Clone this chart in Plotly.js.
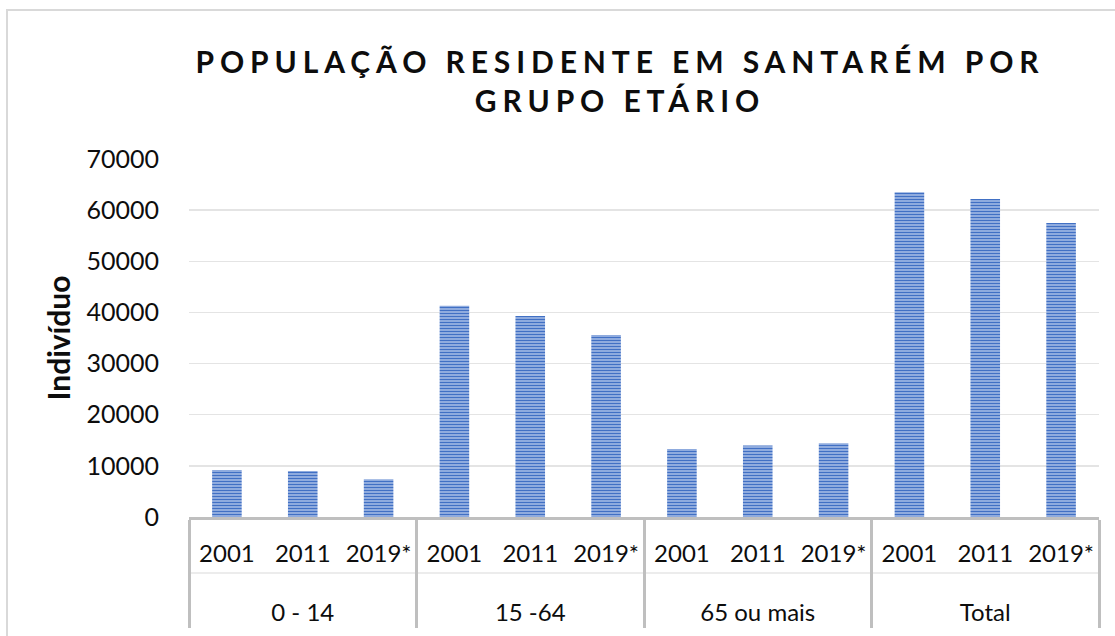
<!DOCTYPE html>
<html>
<head>
<meta charset="utf-8">
<script src="https://cdn.plot.ly/plotly-3.0.1.min.js"></script>
<style>
  html, body { margin: 0; padding: 0; background: #fff; }
  #chart { width: 1115px; height: 636px; position: absolute; left: 0; top: 0; }
  #frame { position: absolute; left: 6px; top: 9px; width: 1200px; height: 700px;
           border-left: 2px solid #d9d9d9; border-top: 2px solid #d9d9d9; pointer-events: none; }
  .gtitle { letter-spacing: 5.9px; }
</style>
</head>
<body>
<div id="chart"></div>
<div id="frame"></div>
<script>
// Data
const groups = ["0 - 14", "15 -64", "65 ou mais", "Total"];
const years = ["2001", "2011", "2019*"];
const values = {
  "0 - 14":     [9200, 9000, 7400],
  "15 -64":     [41300, 39300, 35600],
  "65 ou mais": [13300, 14000, 14400],
  "Total":      [63500, 62200, 57500]
};
const yTicks = [0, 10000, 20000, 30000, 40000, 50000, 60000, 70000];
const chartTitle = "POPULAÇÃO RESIDENTE EM SANTARÉM POR<br>GRUPO ETÁRIO";
const yTitle = "Indivíduo";

// label styling (outer labels get a leading line break to sit lower, as in the reference)
const lbl = s => "<span style='font-size:24px'>" + s + "</span>";

// Build multicategory arrays
const xOuter = [], xInner = [], yVals = [];
groups.forEach(g => years.forEach((yr, i) => {
  xOuter.push("<br>" + lbl(g)); xInner.push(lbl(yr)); yVals.push(values[g][i]);
}));

// layout pixel geometry
const W = 1115, H = 636;
const L = 189, R = 1099, T = 159, B = 517;
const px2x = p => (p - L) / (R - L);
const px2y = p => (B - p) / (B - T);

const font = "Lato, 'Open Sans', sans-serif";

const trace = {
  type: "bar",
  x: [xOuter, xInner],
  y: yVals,
  marker: {
    color: "#4472c4",
    line: { width: 0 },
    pattern: { shape: "-", fgcolor: "#4170c4", bgcolor: "#a9bfe7", size: 3, solidity: 0.5, fillmode: "replace" }
  },
  hoverinfo: "none"
};

const layout = {
  width: W, height: H,
  margin: { l: L, r: W - R, t: T, b: H - B, pad: 0 },
  paper_bgcolor: "#fff",
  plot_bgcolor: "#fff",
  bargap: 0.61,
  showlegend: false,
  font: { family: font, size: 24, color: "#0d0d0d" },
  title: {
    text: chartTitle,
    font: { family: font, size: 30, color: "#0d0d0d", weight: "bold" },
    x: px2x(620), xref: "paper", xanchor: "center",
    y: 1 - 73 / H, yref: "container", yanchor: "top"
  },
  xaxis: {
    type: "multicategory",
    showline: true, linecolor: "#bfbfbf", linewidth: 3,
    showgrid: false,
    tickangle: 0,
    ticks: "outside", ticklen: 25, tickcolor: "rgba(0,0,0,0)",
    ticklabelstandoff: 8,
    showdividers: true, dividercolor: "#bfbfbf", dividerwidth: 3,
    tickfont: { family: font, size: 28, color: "#0d0d0d" },
    range: [-0.5, 11.5], fixedrange: true
  },
  yaxis: {
    range: [0, 70000],
    tickvals: yTicks,
    ticktext: yTicks.map(String),
    showline: false,
    showgrid: true, gridcolor: "#e4e4e4", gridwidth: 1.5,
    zeroline: false,
    ticks: "outside", ticklen: 24, tickcolor: "rgba(0,0,0,0)",
    tickfont: { family: font, size: 25, color: "#0d0d0d" },
    title: { text: yTitle, font: { family: font, size: 30, weight: "bold", color: "#0d0d0d" }, standoff: 6 },
    fixedrange: true
  },
  shapes: [
    { type: "line", xref: "paper", yref: "paper", x0: 0, x1: 1, y0: px2y(573), y1: px2y(573),
      line: { color: "#e6e6e6", width: 1.5 }, layer: "below" }
  ]
};

Plotly.newPlot("chart", [trace], layout, { displayModeBar: false, staticPlot: true });
</script>
</body>
</html>
